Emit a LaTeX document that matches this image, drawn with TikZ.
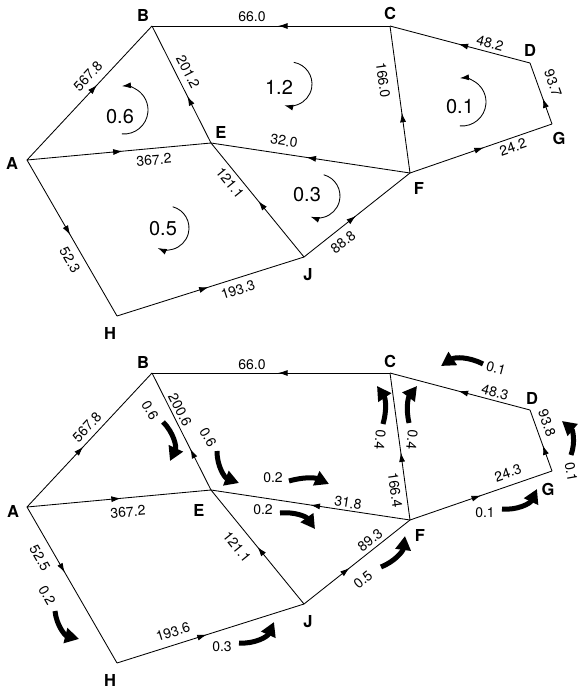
\documentclass[tikz,border=0pt]{standalone}
\usepackage{fontspec}
\setmainfont{TeX Gyre Heros}
\usetikzlibrary{arrows.meta,decorations.markings,calc}
\begin{document}
\begin{tikzpicture}[x=1pt,y=-1pt,
  edge/.style={line width=0.85pt},
  ma/.style={edge,postaction={decorate},decoration={markings,mark=at position #1 with {\arrow{Latex[length=9.5pt,width=6pt]}}}},
  nd/.style={font=\bfseries\fontsize{16.5}{16.5}\selectfont,inner sep=0pt},
  lab/.style={font=\fontsize{14}{14}\selectfont,inner sep=0pt},
  big/.style={font=\fontsize{20}{20}\selectfont,inner sep=0pt},
  loop/.style={line width=0.85pt,-{Latex[length=9pt,width=6pt]}},
  flow/.style={line width=5pt,-{Triangle[length=14pt,width=15pt]}}
]
\useasboundingbox (0,0) rectangle (578,689);
\fill[white] (0,0) rectangle (578,689);

% ---------- top network ----------
\coordinate (A1) at (27,160);
\coordinate (B1) at (152,26);
\coordinate (C1) at (390,26);
\coordinate (D1) at (530,63);
\coordinate (G1) at (552,124);
\coordinate (F1) at (410,173);
\coordinate (E1) at (211,143);
\coordinate (J1) at (304,257);
\coordinate (H1) at (117,316);

\draw[ma=0.56] (A1) -- (B1);
\draw[ma=0.52] (A1) -- (E1);
\draw[ma=0.48] (A1) -- (H1);
\draw[ma=0.49] (H1) -- (J1);
\draw[ma=0.49] (J1) -- (E1);
\draw[ma=0.49] (J1) -- (F1);
\draw[ma=0.40] (E1) -- (B1);
\draw[ma=0.47] (C1) -- (B1);
\draw[ma=0.52] (F1) -- (E1);
\draw[ma=0.41] (F1) -- (C1);
\draw[ma=0.51] (D1) -- (C1);
\draw[ma=0.42] (G1) -- (D1);
\draw[ma=0.52] (F1) -- (G1);

\node[nd] (lA1) at (12,163) {A};
\node[nd] (lB1) at (143,15) {B};
\node[nd] (lC1) at (390,13) {C};
\node[nd] (lD1) at (530,50) {D};
\node[nd] (lG1) at (559,138) {G};
\node[nd] (lF1) at (419,188) {F};
\node[nd] (lE1) at (221,132) {E};
\node[nd] (lJ1) at (308,275) {J};
\node[nd] (lH1) at (110,333) {H};

\node[lab,rotate=47] (t1) at (88,76) {567.8};
\node[lab,rotate=-63] (t2) at (188,72) {201.2};
\node[lab] (t3) at (252,17) {66.0};
\node[lab,rotate=5] (t4) at (154,160) {367.2};
\node[lab,rotate=-8.6] (t5) at (284,141) {32.0};
\node[lab,rotate=-82] (t6) at (383,80) {166.0};
\node[lab,rotate=-15] (t7) at (490,43) {48.2};
\node[lab,rotate=-70] (t8) at (553,83) {93.7};
\node[lab,rotate=19] (t9) at (513,147) {24.2};
\node[lab,rotate=-51] (t10) at (230,183) {121.1};
\node[lab,rotate=38] (t11) at (343,242) {88.8};
\node[lab,rotate=-60] (t12) at (70,260) {52.3};
\node[lab,rotate=17.5] (t13) at (238,290) {193.3};

\coordinate (c06) at (124,110);
\coordinate (c12) at (290,84);
\coordinate (c01) at (462,102);
\coordinate (c03) at (318,196);
\coordinate (c05) at (167,228);
\draw[loop] ($(c06)+(95:24)$) arc[start angle=95,end angle=-95,radius=24];
\draw[loop] ($(c12)+(-80:22)$) arc[start angle=-80,end angle=105,radius=22];
\draw[loop] ($(c01)+(95:24)$) arc[start angle=95,end angle=-95,radius=24];
\draw[loop] ($(c03)+(-75:22)$) arc[start angle=-75,end angle=110,radius=22];
\draw[loop] ($(c05)+(-75:22)$) arc[start angle=-75,end angle=115,radius=22];
\node[big] (m1) at (120,117) {0.6};
\node[big] (m2) at (279,87) {1.2};
\node[big] (m3) at (460,107) {0.1};
\node[big] (m4) at (307,195) {0.3};
\node[big] (m5) at (163,229) {0.5};

% ---------- bottom network ----------
\coordinate (A2) at (27,507);
\coordinate (B2) at (152,373);
\coordinate (C2) at (390,373);
\coordinate (D2) at (530,410);
\coordinate (G2) at (552,471);
\coordinate (F2) at (410,520);
\coordinate (E2) at (211,490);
\coordinate (J2) at (304,604);
\coordinate (H2) at (117,663);

\draw[ma=0.45] (A2) -- (B2);
\draw[ma=0.51] (A2) -- (E2);
\draw[ma=0.42] (A2) -- (H2);
\draw[ma=0.48] (H2) -- (J2);
\draw[ma=0.50] (J2) -- (E2);
\draw[ma=0.43] (J2) -- (F2);
\draw[ma=0.35] (E2) -- (B2);
\draw[ma=0.47] (C2) -- (B2);
\draw[ma=0.50] (F2) -- (E2);
\draw[ma=0.46] (F2) -- (C2);
\draw[ma=0.51] (D2) -- (C2);
\draw[ma=0.42] (G2) -- (D2);
\draw[ma=0.50] (F2) -- (G2);

\node[nd] (lA2) at (13,511) {A};
\node[nd] (lB2) at (143,362) {B};
\node[nd] (lC2) at (390,361) {C};
\node[nd] (lD2) at (532,398) {D};
\node[nd] (lG2) at (548,489) {G};
\node[nd] (lF2) at (420,535) {F};
\node[nd] (lE2) at (199,510) {E};
\node[nd] (lJ2) at (308,622) {J};
\node[nd] (lH2) at (110,680) {H};

\node[lab,rotate=47] (b1) at (87,427) {567.8};
\node[lab,rotate=-63] (b2) at (180,410) {200.6};
\node[lab] (b3) at (252,365) {66.0};
\node[lab,rotate=5] (b4) at (128,512) {367.2};
\node[lab,rotate=-8.6] (b5) at (348,503) {31.8};
\node[lab,rotate=-82] (b6) at (395,490) {166.4};
\node[lab,rotate=-15] (b7) at (495,392) {48.3};
\node[lab,rotate=-70] (b8) at (547,423) {93.8};
\node[lab,rotate=19] (b9) at (508,473) {24.3};
\node[lab,rotate=-51] (b10) at (237,547) {121.1};
\node[lab,rotate=38] (b11) at (370,540) {89.3};
\node[lab,rotate=-60] (b12) at (40,558) {52.5};
\node[lab,rotate=17.5] (b13) at (173,632) {193.6};

% flow arrows
\coordinate (f1s) at (163,422); \coordinate (f1e) at (170,461);
\coordinate (f2s) at (217,451); \coordinate (f2e) at (239,483);
\coordinate (f3s) at (289,481); \coordinate (f3e) at (329,484);
\coordinate (f4s) at (280,513); \coordinate (f4e) at (315,529);
\coordinate (f5s) at (55,611);  \coordinate (f5e) at (79,639);
\coordinate (f6s) at (239,643); \coordinate (f6e) at (274,622);
\coordinate (f7s) at (381,567); \coordinate (f7e) at (405,536);
\coordinate (f8s) at (502,509); \coordinate (f8e) at (537,489);
\coordinate (f9s) at (571,455); \coordinate (f9e) at (562,421);
\coordinate (f10s) at (483,364); \coordinate (f10e) at (441,366);
\coordinate (f11s) at (383,424); \coordinate (f11e) at (377,386);
\coordinate (f12s) at (409,423); \coordinate (f12e) at (417,386);

\draw[flow] (f1s) to[bend left=35] (f1e);
\draw[flow] (f2s) to[bend right=35] (f2e);
\draw[flow] (f3s) to[bend left=20] (f3e);
\draw[flow] (f4s) to[bend left=30] (f4e);
\draw[flow] (f5s) to[bend right=35] (f5e);
\draw[flow] (f6s) to[bend right=35] (f6e);
\draw[flow] (f7s) to[bend right=30] (f7e);
\draw[flow] (f8s) to[bend right=35] (f8e);
\draw[flow] (f9s) to[bend right=35] (f9e);
\draw[flow] (f10s) to[bend right=30] (f10e);
\draw[flow] (f11s) to[bend right=25] (f11e);
\draw[flow] (f12s) to[bend left=25] (f12e);

\node[lab,rotate=-60] (q1) at (150,410) {0.6};
\node[lab,rotate=-60] (q2) at (208,437) {0.6};
\node[lab] (q3) at (273,478) {0.2};
\node[lab] (q4) at (263,510) {0.2};
\node[lab,rotate=-60] (q5) at (47,595) {0.2};
\node[lab] (q6) at (222,647) {0.3};
\node[lab,rotate=40] (q7) at (363,580) {0.5};
\node[lab] (q8) at (485,513) {0.1};
\node[lab,rotate=-80] (q9) at (571,472) {0.1};
\node[lab,rotate=-15] (q10) at (496,368) {0.1};
\node[lab,rotate=-95] (q11) at (380,440) {0.4};
\node[lab,rotate=-95] (q12) at (412,440) {0.4};
\end{tikzpicture}
\end{document}
